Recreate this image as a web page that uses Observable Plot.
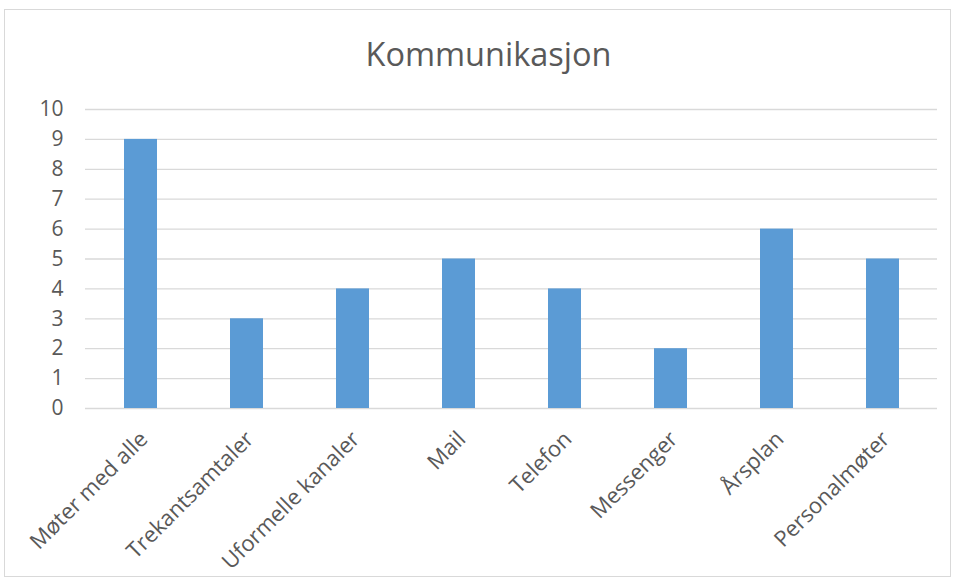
<!DOCTYPE html>
<html>
<head>
<meta charset="utf-8">
<script src="https://cdn.jsdelivr.net/npm/d3@7"></script>
<script src="https://cdn.jsdelivr.net/npm/@observablehq/plot@0.6"></script>
<style>
  html, body { margin: 0; padding: 0; background: #fff; }
  #wrap { position: relative; width: 957px; height: 581px; overflow: hidden; font-family: "Open Sans", sans-serif; }
  #frame { position: absolute; left: 4px; top: 9px; width: 947px; height: 568px; border: 1px solid #d9d9d9; box-sizing: border-box; }
  #title { position: absolute; left: 10px; width: 957px; top: 32px; text-align: center; font-size: 32.5px; color: #595959; line-height: 44px; }
  #chart { position: absolute; left: 0; top: 90px; }
</style>
</head>
<body>
<div id="wrap">
  <div id="frame"></div>
  <div id="title">Kommunikasjon</div>
  <div id="chart"></div>
</div>
<script>
const categories = ["Møter med alle", "Trekantsamtaler", "Uformelle kanaler", "Mail", "Telefon", "Messenger", "Årsplan", "Personalmøter"];
const values = [9, 3, 4, 5, 4, 2, 6, 5];
const yTicks = [0, 1, 2, 3, 4, 5, 6, 7, 8, 9, 10];

const data = categories.map((c, i) => ({category: c, value: values[i]}));

const chart = Plot.plot({
  width: 957,
  height: 491,
  marginLeft: 85,
  marginRight: 20,
  marginTop: 19,
  marginBottom: 173,
  style: {fontFamily: "Open Sans, sans-serif", fontSize: "20px", color: "#595959", background: "transparent", overflow: "visible"},
  x: {domain: categories, paddingInner: 0.69, paddingOuter: 0.345, label: null},
  y: {domain: [0, 10], label: null},
  marks: [
    Plot.ruleY(yTicks, {stroke: "#d9d9d9", strokeWidth: 1.3}),
    Plot.barY(data, {x: "category", y: "value", fill: "#5b9bd5"}),
    Plot.axisY({ticks: yTicks, tickSize: 0, tickPadding: 22, fontSize: 21, fill: "#595959", tickFormat: d => String(d)}),
    Plot.axisX({tickSize: 0, tickRotate: -45, tickPadding: 27, fontSize: 22, fill: "#595959", dx: 3})
  ]
});
document.getElementById("chart").appendChild(chart);
</script>
</body>
</html>
